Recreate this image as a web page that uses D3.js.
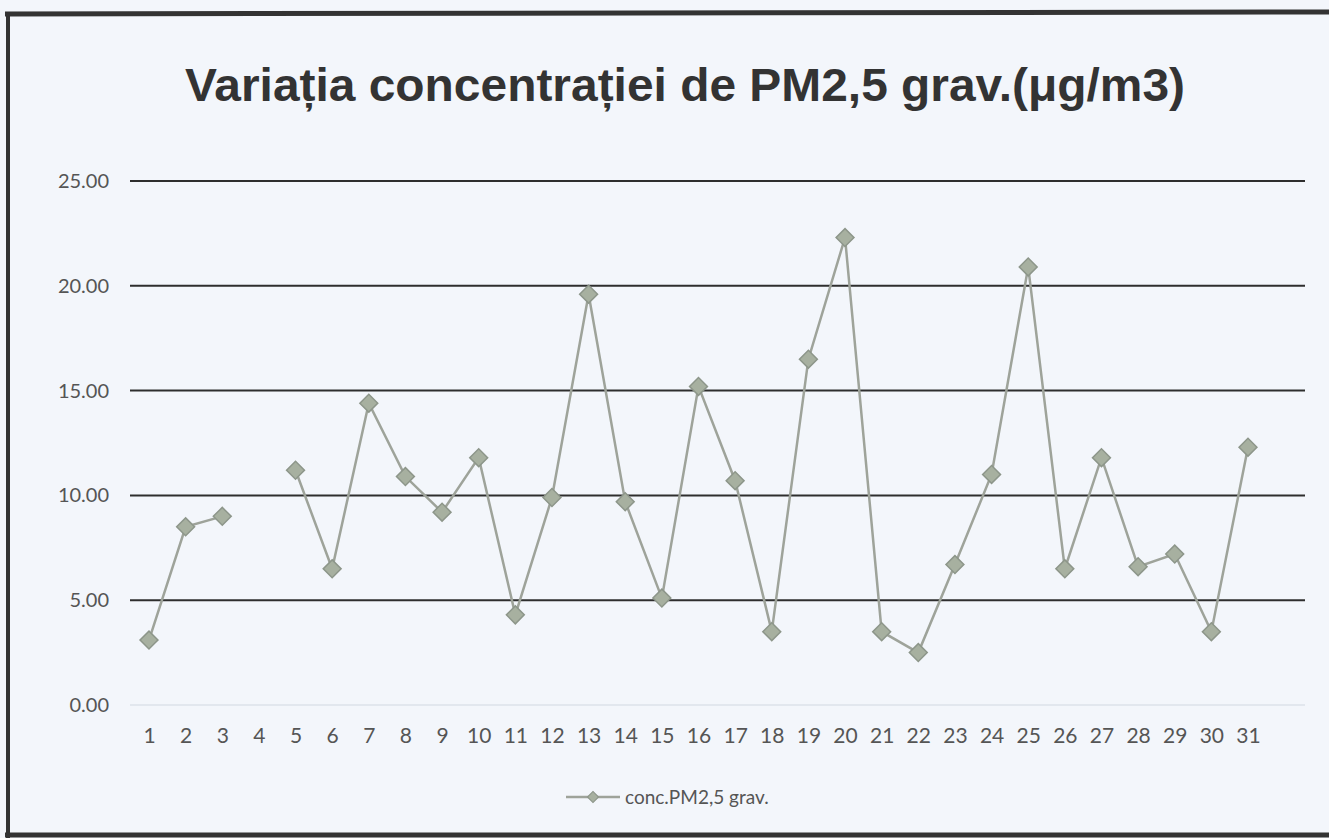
<!DOCTYPE html>
<html><head><meta charset="utf-8">
<script src="https://cdn.jsdelivr.net/npm/d3@7"></script>
<style>body{margin:0;background:#f3f6fb;}svg{display:block;}</style>
</head><body>
<svg id="c" width="1329" height="838"></svg>
<script>
const days = ["1","2","3","4","5","6","7","8","9","10","11","12","13","14","15","16","17","18","19","20","21","22","23","24","25","26","27","28","29","30","31"];
const values = [3.1,8.5,9.0,null,11.2,6.5,14.4,10.9,9.2,11.8,4.3,9.9,19.6,9.7,5.1,15.2,10.7,3.5,16.5,22.3,3.5,2.5,6.7,11.0,20.9,6.5,11.8,6.6,7.2,3.5,12.3];
const yTicks = [0,5,10,15,20,25];
const title = "Variația concentrației de PM2,5 grav.(μg/m3)";
const seriesName = "conc.PM2,5 grav.";

const svg = d3.select("#c");
svg.append("rect").attr("width",1329).attr("height",838).attr("fill","#f3f6fb");
// frame
svg.append("line").attr("x1",5).attr("x2",1329).attr("y1",14).attr("y2",12).attr("stroke","#333").attr("stroke-width",5);
svg.append("line").attr("x1",8).attr("x2",8).attr("y1",12).attr("y2",838).attr("stroke","#333").attr("stroke-width",4);
svg.append("line").attr("x1",5).attr("x2",1329).attr("y1",835).attr("y2",835).attr("stroke","#333").attr("stroke-width",5);

const x = d3.scalePoint().domain(days).range([149,1248]);
const y = d3.scaleLinear().domain([0,25]).range([705,181]);

// gridlines
svg.append("g").selectAll("line").data(yTicks).join("line")
  .attr("x1",130).attr("x2",1305)
  .attr("y1",d=>y(d)).attr("y2",d=>y(d))
  .attr("stroke",d=>d===0?"#dde2ea":"#2e2e2e").attr("stroke-width",d=>d===0?1.5:2);

const lab = "Lato, 'Open Sans', sans-serif";
// y axis labels
const yAx = svg.append("g").attr("transform","translate(109,0)")
  .call(d3.axisLeft(y).tickValues(yTicks).tickFormat(d3.format(".2f")).tickSize(0).tickPadding(0));
yAx.select(".domain").remove();
yAx.selectAll("text").attr("font-family",lab).attr("font-size",20).attr("fill","#555");

// x axis labels
const xAx = svg.append("g").attr("transform","translate(0,728)")
  .call(d3.axisBottom(x).tickSize(0).tickPadding(0));
xAx.select(".domain").remove();
xAx.selectAll("text").attr("font-family",lab).attr("font-size",21).attr("fill","#555");

// line
const data = days.map((d,i)=>({d, v: values[i]}));
const line = d3.line().defined(p=>p.v!==null).x(p=>x(p.d)).y(p=>y(p.v));
svg.append("path").datum(data).attr("d",line).attr("fill","none").attr("stroke","#9ea39a").attr("stroke-width",2.5);

// markers
const sq = d3.symbol().type(d3.symbolSquare).size(160);
svg.append("g").selectAll("path").data(data.filter(p=>p.v!==null)).join("path")
  .attr("d",sq)
  .attr("transform",p=>`translate(${x(p.d)},${y(p.v)}) rotate(45)`)
  .attr("fill","#a7b0a0").attr("stroke","#8d968a").attr("stroke-width",1.5);

// title
svg.append("text").attr("x",685).attr("y",101).attr("text-anchor","middle")
  .attr("font-family","'Liberation Sans', Arial, sans-serif").attr("font-weight","bold")
  .attr("font-size",46).attr("fill","#333").attr("textLength",1000).attr("lengthAdjust","spacingAndGlyphs")
  .text(title);

// legend
const lg = svg.append("g");
lg.append("line").attr("x1",566).attr("x2",620).attr("y1",797).attr("y2",797).attr("stroke","#9ea39a").attr("stroke-width",2.5);
lg.append("path").attr("d",d3.symbol().type(d3.symbolSquare).size(60)).attr("transform","translate(593,797) rotate(45)")
  .attr("fill","#a7b0a0").attr("stroke","#8d968a").attr("stroke-width",1.2);
lg.append("text").attr("x",625).attr("y",804).attr("font-family",lab).attr("font-size",19).attr("fill","#555").text(seriesName);
</script>
</body></html>
